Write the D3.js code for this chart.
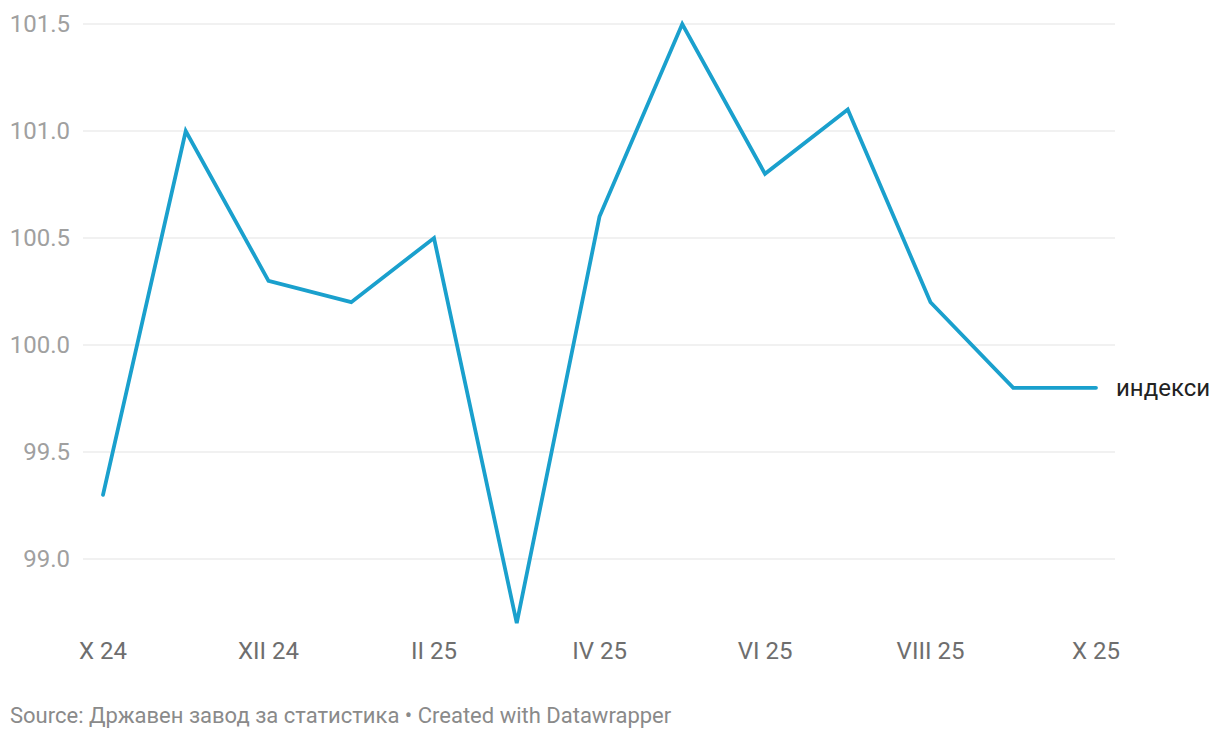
<!DOCTYPE html>
<html>
<head>
  <meta charset="utf-8">
  <title>индекси</title>
  <script src="https://d3js.org/d3.v7.min.js"></script>
  <style>
    html, body { margin: 0; background: #fff; overflow: hidden; }
    text { font-family: Roboto, sans-serif; }
  </style>
</head>
<body>
<svg width="1220" height="740"></svg>
<script>
// месеци X 24 .. X 25
const months = ["X 24","XI 24","XII 24","I 25","II 25","III 25","IV 25","V 25","VI 25","VII 25","VIII 25","IX 25","X 25"];
const values = [99.3, 101.0, 100.3, 100.2, 100.5, 98.7, 100.6, 101.5, 100.8, 101.1, 100.2, 99.8, 99.8];
const yTicks = [99.0, 99.5, 100.0, 100.5, 101.0, 101.5];
const xTickLabels = ["X 24","XII 24","II 25","IV 25","VI 25","VIII 25","X 25"];
const seriesName = "индекси";

const svg = d3.select("svg");

const x = d3.scalePoint().domain(months).range([103, 1096]);
const y = d3.scaleLinear().domain([99.0, 101.5]).range([559, 24]);

// мрежа
const grid = svg.append("g");
grid.selectAll("line")
  .data(yTicks)
  .join("line")
  .attr("x1", 83).attr("x2", 1115)
  .attr("y1", d => y(d)).attr("y2", d => y(d))
  .attr("stroke", "#e3e3e3")
  .attr("stroke-width", 1);

grid.selectAll("text")
  .data(yTicks)
  .join("text")
  .attr("x", 70)
  .attr("y", d => y(d))
  .attr("dy", "0.35em")
  .attr("text-anchor", "end")
  .attr("font-size", 24)
  .attr("fill", "#a0a0a0")
  .text(d => d.toFixed(1));

// x оска
svg.append("g")
  .selectAll("text")
  .data(xTickLabels)
  .join("text")
  .attr("x", d => x(d))
  .attr("y", 659)
  .attr("text-anchor", "middle")
  .attr("font-size", 24)
  .attr("fill", "#6e6e6e")
  .text(d => d);

// линија
const line = d3.line()
  .x((d, i) => x(months[i]))
  .y(d => y(d));

svg.append("path")
  .datum(values)
  .attr("d", line)
  .attr("fill", "none")
  .attr("stroke", "#1aa0cd")
  .attr("stroke-width", 3.8)
  .attr("stroke-linejoin", "miter")
  .attr("stroke-linecap", "round");

svg.append("text")
  .attr("x", 1116)
  .attr("y", y(values[values.length - 1]))
  .attr("dy", "0.35em")
  .attr("font-size", 24)
  .attr("fill", "#222")
  .text(seriesName);

svg.append("text")
  .attr("x", 10)
  .attr("y", 723)
  .attr("font-size", 22)
  .attr("fill", "#8a8a8a")
  .text("Source: Државен завод за статистика • Created with Datawrapper");
</script>
</body>
</html>
